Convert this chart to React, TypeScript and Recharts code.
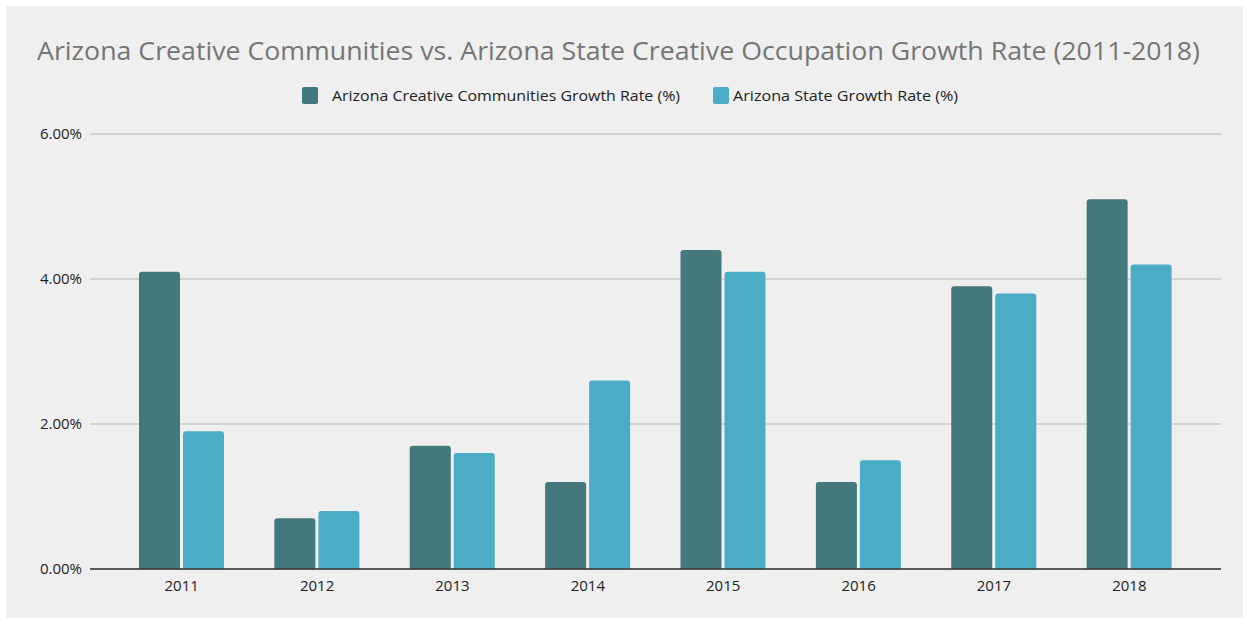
import { BarChart, Bar, XAxis, YAxis, CartesianGrid } from 'recharts';

const years = ['2011', '2012', '2013', '2014', '2015', '2016', '2017', '2018'];
const communitiesRate = [4.1, 0.7, 1.7, 1.2, 4.4, 1.2, 3.9, 5.1];
const stateRate = [1.9, 0.8, 1.6, 2.6, 4.1, 1.5, 3.8, 4.2];
const yTicks = [0, 2, 4, 6];

const seriesNames = [
  'Arizona Creative Communities Growth Rate (%)',
  'Arizona State Growth Rate (%)',
];
const colors = ['#43787c', '#4aacc5'];

const data = years.map((year, i) => ({
  year,
  communities: communitiesRate[i],
  state: stateRate[i],
}));

function formatPercent(v: number): string {
  return `${v.toFixed(2)}%`;
}

export default function App() {
  return (
    <div style={{ position: 'absolute', left: 0, top: 0, width: 1249, height: 622, background: '#fff', fontFamily: '"Open Sans", sans-serif' }}>
      <div style={{ position: 'absolute', left: 6, top: 6, width: 1237, height: 612, background: '#efefef' }} />
      <svg style={{ position: 'absolute', left: 0, top: 0 }} width={1249} height={120}>
        <text x={37} y={60} fontSize={26} fill="#757575" textLength={1163} lengthAdjust="spacingAndGlyphs">
          Arizona Creative Communities vs. Arizona State Creative Occupation Growth Rate (2011-2018)
        </text>
        {/* legend */}
        <rect x={302} y={87} width={16} height={17} rx={2} fill={colors[0]} />
        <text x={332} y={101} fontSize={14} fill="#222" textLength={348} lengthAdjust="spacingAndGlyphs">
          {seriesNames[0]}
        </text>
        <rect x={713} y={87} width={16} height={17} rx={2} fill={colors[1]} />
        <text x={733} y={101} fontSize={14} fill="#222" textLength={225} lengthAdjust="spacingAndGlyphs">
          {seriesNames[1]}
        </text>
      </svg>
      <div style={{ position: 'absolute', left: 0, top: 0 }}>
        <BarChart
          width={1249}
          height={622}
          data={data}
          margin={{ top: 134, right: 28, bottom: 23, left: 0 }}
          barSize={41}
          barGap={3}
        >
          <CartesianGrid vertical={false} stroke="#c8c8c8" strokeWidth={1.3} />
          <XAxis
            dataKey="year"
            height={30}
            padding={{ left: 24, right: 24 }}
            tickLine={false}
            tickMargin={5}
            axisLine={{ stroke: '#333', strokeWidth: 1.3 }}
            tick={{ fill: '#222', fontSize: 15 }}
          />
          <YAxis
            width={90}
            domain={[0, 6]}
            ticks={yTicks}
            tickFormatter={formatPercent}
            tickLine={false}
            axisLine={false}
            tick={{ fill: '#222', fontSize: 15 }}
          />
          <Bar dataKey="communities" name={seriesNames[0]} fill={colors[0]} radius={[3, 3, 0, 0]} isAnimationActive={false} />
          <Bar dataKey="state" name={seriesNames[1]} fill={colors[1]} radius={[3, 3, 0, 0]} isAnimationActive={false} />
        </BarChart>
      </div>
    </div>
  );
}
